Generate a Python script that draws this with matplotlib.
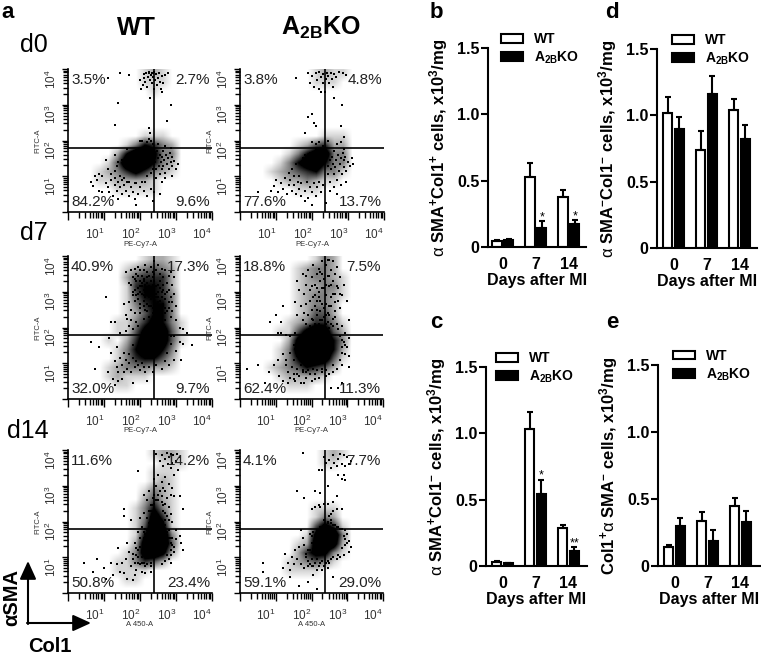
import numpy as np
import matplotlib
matplotlib.use('Agg')
import matplotlib.pyplot as plt

W, H = 761, 654
plt.rcParams['font.family'] = ['Liberation Sans', 'DejaVu Sans']
plt.rcParams['mathtext.fontset'] = 'custom'
plt.rcParams['mathtext.rm'] = 'Liberation Sans'
plt.rcParams['mathtext.bf'] = 'Liberation Sans:bold'
plt.rcParams['mathtext.it'] = 'Liberation Sans:italic'

# flow cytometry events read by eye, as log10 (Col1, aSMA)
# density = darkness 0-9 of the cloud in quarter decade cells, top row first
d0_wt_density = ['0000000012100000', '0000000011100000', '0000000001000000', '0000000000000000',
                 '0000000000000000', '0000000000000000', '0000000000000000', '0000000011100000',
                 '0000001365320000', '0000026997330000', '0000149996320000', '0001235753210000',
                 '0001122221000000', '0000011111000000', '0000000000000000', '0000000000000000']
d0_wt_dots = [(2.0,3.7),(2.03,3.45),(2.08,3.55),(2.1,3.75),(2.12,3.85),(2.15,3.65),(2.18,3.9),(2.2,3.5),(2.22,3.78),
              (2.25,3.88),(2.25,3.92),(2.28,3.7),(2.3,3.83),(2.32,3.9),(2.33,3.6),(2.36,3.78),(2.36,3.88),(2.38,3.45),
              (2.4,3.92),(2.42,3.7),(2.44,3.85),(2.46,3.55),(2.5,3.75),(2.52,3.88),(2.55,3.65),(2.58,3.45),(2.6,3.8),
              (2.65,3.6),(2.7,3.82),(2.78,3.88),(2.6,3.35),(2.85,3.0),(2.75,2.55),(2.28,3.2),(2.25,2.35),(2.28,2.2),
              (2.25,2.05),(2.3,2.0),(2.0,1.98),(1.38,3.05),(1.3,2.42),(2.05,2.0),(2.2,1.95),(2.35,1.9),(1.45,3.88),
              (1.7,3.83),(1.1,3.75),(0.65,0.85),(0.7,0.72),(0.75,1.0),(0.8,0.9),(0.85,0.6),(0.85,1.05),(0.95,1.0),
              (0.95,0.55),(1.05,0.8),(1.1,0.7),(1.1,1.2),(1.15,0.55),(1.2,0.9),(1.2,1.05),(1.25,0.45),(1.3,0.75),
              (1.3,0.95),(1.35,0.6),(1.4,0.85),(1.4,0.35),(1.45,0.7),(1.5,0.9),(1.5,0.5),(1.55,0.75),(1.6,0.6),
              (1.65,0.85),(1.7,0.45),(1.75,0.7),(1.8,0.55),(1.85,0.35),(1.9,0.8),(1.95,0.5),(2.0,0.7),(2.1,0.6),
              (2.15,0.85),(2.2,0.45),(2.3,0.65),(2.4,0.55),(2.55,0.5),(2.35,0.3),(1.9,0.2),(1.3,1.6),(1.05,1.45),
              (1.65,1.75),(2.4,1.6),(2.42,1.4),(2.45,1.2),(2.48,1.7),(2.5,1.5),(2.52,1.3),(2.55,1.05),(2.55,1.6),
              (2.58,1.4),(2.6,1.2),(2.62,1.55),(2.65,1.7),(2.65,1.3),(2.68,1.45),(2.7,1.1),(2.72,1.6),(2.75,1.35),
              (2.78,1.5),(2.8,1.2),(2.82,1.65),(2.85,1.4),(2.88,1.3),(2.9,1.55),(2.95,1.42),(3.0,1.2),(2.7,0.95),
              (2.9,1.0),(2.45,0.95),(2.6,0.85),(3.05,1.35),(2.5,1.9),(2.7,1.85),(2.85,1.8),(1.35,1.3),(1.4,1.4),
              (1.5,1.45),(1.6,1.55),(1.7,1.6),(1.8,1.65),(1.9,1.7),(2.0,1.75),(2.1,1.75),(2.2,1.8),(2.3,1.75),
              (1.45,1.0),(1.55,0.95),(1.7,0.85),(1.85,0.8),(2.05,0.85),(2.2,1.0),(2.3,1.1),(2.35,1.2),(1.3,1.15)]

d0_ko_density = ['0000000012110000', '0000000011100000', '0000000000000000', '0000000000000000',
                 '0000000000000000', '0000000000000000', '0000000000000000', '0000000001110000',
                 '0000001245220000', '0000013688330000', '0000136896330000', '0001234563310000',
                 '0000122321100000', '0000001110000000', '0000000000000000', '0000000000000000']
d0_ko_dots = [(1.55,3.75),(1.9,3.9),(1.95,3.6),(2.0,3.8),(2.05,3.5),(2.1,3.88),(2.15,3.7),(2.2,3.92),(2.2,3.45),
              (2.25,3.78),(2.3,3.6),(2.3,3.85),(2.35,3.35),(2.38,3.72),(2.42,3.9),(2.45,3.8),(2.48,3.6),(2.52,3.9),
              (2.55,3.72),(2.58,3.5),(2.62,3.85),(2.68,3.78),(2.75,3.92),(2.85,3.88),(2.95,3.82),(2.6,3.2),(2.82,2.98),
              (2.25,3.35),(1.9,2.65),(2.0,2.75),(2.05,2.5),(2.1,2.4),(1.8,2.2),(2.8,2.4),(2.9,2.1),(2.0,1.95),(2.1,1.9),
              (2.2,1.95),(2.3,1.85),(2.45,2.0),(2.7,1.9),(2.8,1.95),(2.9,1.75),(1.0,0.9),(0.85,0.6),(0.95,0.72),
              (1.05,0.55),(1.15,0.8),(1.2,0.65),(1.25,0.95),(1.3,0.5),(1.35,0.75),(1.35,1.1),(1.4,0.9),(1.45,0.6),
              (1.45,1.2),(1.5,0.75),(1.5,1.0),(1.55,0.5),(1.55,1.35),(1.6,0.85),(1.65,0.65),(1.65,1.0),(1.7,0.45),
              (1.7,0.8),(1.75,1.5),(1.8,0.6),(1.85,0.85),(1.9,0.4),(1.95,0.7),(2.0,0.55),(2.05,0.8),(2.1,0.45),
              (2.15,0.7),(2.2,0.85),(2.25,0.55),(2.3,0.75),(1.8,1.6),(1.95,1.65),(2.1,1.75),(2.2,1.7),(2.35,1.7),
              (1.8,0.3),(2.0,0.2),(2.4,0.25),(2.45,1.6),(2.45,1.3),(2.45,1.05),(2.5,1.45),(2.5,0.85),(2.52,1.2),
              (2.55,1.55),(2.58,1.35),(2.6,1.05),(2.62,1.7),(2.65,1.25),(2.68,1.45),(2.7,0.9),(2.72,1.6),(2.75,1.15),
              (2.78,1.35),(2.8,1.5),(2.82,1.05),(2.85,1.65),(2.88,1.25),(2.9,1.45),(2.92,1.55),(2.95,1.15),(3.0,1.4),
              (3.05,1.3),(3.1,1.5),(3.15,1.35),(2.6,0.7),(2.8,0.75),(2.5,0.6),(2.7,0.5),(2.95,0.85),(0.5,0.55)]

d7_wt_density = ['0000000012210000', '0000001234320000', '0000002455520000', '0000001566520000',
                 '0000001466530000', '0000001356630000', '0000001246630000', '0000011357631000',
                 '0000011479841000', '0000102589841000', '0000013689630000', '0000013566420000',
                 '0000123332210000', '0000121110000000', '0000011000000000', '0000000000000000']
d7_wt_dots = [(1.9,3.3),(2.05,3.45),(2.2,3.25),(2.35,3.4),(2.5,3.2),(1.85,3.05),(2.0,3.15),(2.15,3.0),(2.3,3.1),
              (2.45,2.95),(2.6,3.0),(1.95,2.8),(2.1,2.75),(2.25,2.85),(2.4,2.7),(2.55,2.75),(2.7,2.8),(2.0,2.55),
              (2.15,2.5),(2.3,2.6),(2.45,2.45),(2.6,2.5),(2.1,2.25),(2.25,2.3),(2.4,2.2),(2.55,2.3),(2.7,2.2),
              (1.75,3.2),(1.8,3.0),(1.85,3.35),(1.9,2.9),(1.95,3.1),(1.95,3.45),(2.0,3.3),(2.0,2.65),(2.05,2.95),
              (2.05,3.15),(2.1,3.05),(2.1,2.6),(2.1,3.3),(2.15,2.85),(2.15,3.2),(2.2,2.45),(2.2,2.95),(2.2,3.4),
              (2.25,2.6),(2.25,3.05),(2.3,2.8),(2.3,3.3),(2.35,2.3),(2.35,2.55),(2.35,3.2),(2.4,2.95),(2.4,3.5),
              (2.45,2.6),(2.45,2.85),(2.45,3.15),(2.5,2.35),(2.5,2.7),(2.5,3.0),(2.55,2.5),(2.55,3.3),(2.6,2.35),
              (2.6,2.85),(2.65,2.6),(2.65,3.05),(2.7,2.95),(2.7,2.55),(2.75,2.45),(2.8,2.7),(1.7,1.25),(1.8,1.5),
              (1.6,3.55),(1.7,3.25),(1.75,3.6),(1.8,3.4),(1.8,2.9),(1.85,3.65),(1.9,3.5),(1.95,3.7),(2.0,3.6),
              (2.05,3.25),(2.1,3.6),(2.15,3.75),(2.2,3.55),(2.25,3.45),(2.3,3.7),(2.35,3.55),(2.4,3.85),(2.45,3.6),
              (2.5,3.75),(2.55,3.5),(2.6,3.65),(2.65,3.4),(2.7,3.6),(2.75,3.25),(2.8,3.45),(2.85,3.55),(2.9,3.2),
              (2.95,3.4),(2.8,3.05),(2.85,2.85),(2.9,2.7),(2.95,2.95),(3.0,2.6),(2.8,2.55),(2.85,2.3),(2.9,2.45),
              (3.0,2.2),(3.1,2.0),(3.2,1.95),(3.3,1.85),(3.45,1.5),(3.1,1.6),(3.0,1.35),(3.15,1.1),(2.95,1.1),
              (2.85,1.55),(2.85,1.75),(2.95,1.75),(1.7,2.7),(1.75,2.5),(1.6,2.35),(1.55,2.65),(1.2,2.15),(1.05,2.85),
              (1.85,2.4),(1.9,2.15),(1.7,2.05),(1.8,1.95),(1.3,2.15),(1.6,1.9),(1.65,2.25),(1.75,2.2),(1.45,1.85),
              (1.15,1.7),(0.85,1.45),(0.65,1.6),(0.75,0.85),(1.1,0.75),(1.2,1.3),(1.3,1.05),(1.35,0.9),(1.35,1.45),
              (1.4,0.75),(1.45,1.15),(1.5,0.55),(1.5,0.95),(1.55,1.3),(1.55,0.75),(1.6,1.1),(1.65,0.85),(1.7,1.0),
              (1.75,0.75),(1.8,1.15),(1.85,0.9),(1.9,1.05),(1.95,0.95),(2.0,0.8),(2.05,1.0),(2.1,0.9),(2.15,0.75),
              (2.25,0.9),(2.35,0.75),(2.45,0.95),(2.6,0.85),(2.7,1.05),(2.75,1.3),(2.8,0.95),(1.25,0.55),(1.3,0.4),
              (1.4,0.5),(1.8,0.45),(2.2,0.5),(1.85,2.75),(2.0,2.4),(2.2,2.65),(2.35,2.4),(2.5,2.6),(2.65,2.65),
              (2.7,2.4),(2.25,2.1),(2.5,2.1),(2.65,2.1),(1.95,2.05),(2.1,3.35),(2.25,3.15),(2.4,3.3),(2.55,3.1),
              (2.65,3.2),(1.95,2.95),(2.1,2.9),(2.35,2.95),(2.75,3.0),(2.0,3.0),(2.5,2.85),(3.2,1.55)]

d7_ko_density = ['0000000013200000', '0000001233200000', '0000001233210000', '0000001223310000',
                 '0000001233210000', '0000001233200000', '0000001244200000', '0000012355310000',
                 '0000114798420000', '0000027999630000', '0000138999620000', '0000136998410000',
                 '0001234654200000', '0000122221000000', '0000011100000000', '0000000000000000']
d7_ko_dots = [(1.75,3.5),(1.85,3.2),(1.9,3.6),(1.95,3.05),(2.0,3.4),(2.05,3.75),(2.1,3.2),(2.1,2.9),(2.15,3.5),
              (2.2,3.0),(2.2,3.65),(2.25,3.3),(2.25,2.75),(2.3,3.5),(2.3,3.85),(2.35,3.1),(2.35,3.35),(2.35,2.55),
              (2.4,3.75),(2.4,2.9),(2.45,3.45),(2.45,3.9),(2.5,3.15),(2.5,3.9),(2.5,2.6),(2.55,2.85),(2.55,3.6),
              (2.6,3.3),(2.6,3.85),(2.65,2.95),(2.65,2.45),(2.7,3.15),(2.7,3.7),(2.75,2.75),(2.8,3.4),(2.85,2.9),
              (2.9,3.2),(3.0,2.75),(3.05,2.2),(1.2,2.6),(1.0,2.35),(1.15,2.15),(0.85,2.15),(1.55,2.7),(1.65,3.05),
              (1.6,2.35),(1.7,2.6),(1.75,2.2),(1.85,2.65),(1.9,2.35),(1.95,2.05),(2.0,2.5),(2.05,2.2),(2.1,2.6),
              (2.15,2.35),(2.2,2.1),(2.25,2.45),(2.3,2.2),(2.35,2.05),(2.4,2.35),(2.45,2.15),(2.5,2.35),(2.55,2.1),
              (2.6,2.25),(2.7,2.1),(2.75,1.95),(2.85,2.05),(2.95,1.85),(3.05,1.7),(2.9,1.6),(3.0,1.45),(3.05,1.2),
              (2.85,1.3),(2.85,0.95),(2.7,0.85),(2.6,0.75),(1.05,1.85),(1.15,1.85),(1.3,1.8),(1.4,1.75),(1.55,1.85),
              (1.65,1.65),(1.55,1.4),(1.5,1.1),(1.45,0.9),(1.35,0.75),(1.2,1.25),(1.05,1.1),(0.95,0.95),(0.8,0.75),
              (1.1,0.65),(1.2,0.5),(1.3,0.95),(1.35,0.45),(1.4,0.6),(1.5,0.7),(1.55,0.5),(1.6,0.85),(1.65,0.65),
              (1.7,0.45),(1.75,0.75),(1.85,0.6),(1.95,0.7),(2.0,0.5),(2.1,0.7),(2.2,0.6),(2.3,0.75),(2.4,0.65),
              (2.5,0.7),(2.55,0.3),(1.6,1.2),(1.7,1.5),(1.7,0.95),(1.85,1.75),(2.75,0.3),(0.2,0.85),(0.5,0.95),
              (0.7,0.45),(2.8,1.75),(3.05,0.9),(2.85,0.45),(1.6,3.3),(1.8,2.95),(1.85,3.45),(1.95,2.75),(2.0,3.15),
              (2.05,2.85),(2.15,2.75),(2.15,3.1),(2.2,2.85),(2.25,3.55),(2.3,2.65),(2.3,3.1),(2.4,2.65),(2.4,3.2),
              (2.45,2.4),(2.5,3.45),(2.55,2.6),(2.55,3.2),(2.6,2.95),(2.65,3.5),(2.65,2.7),(2.75,3.1),(2.8,2.55),
              (2.8,2.95),(1.8,2.4),(1.85,2.1),(2.0,2.25),(2.05,1.95),(2.1,2.1),(2.15,2.5),(2.25,2.2),(2.35,2.3),
              (2.4,2.1),(2.5,2.0),(2.6,2.05),(2.65,2.3),(1.65,1.2),(1.6,1.5),(1.7,1.35),(1.75,0.8),(1.85,0.75),
              (1.9,0.8),(2.05,0.85),(2.15,0.8),(2.3,0.85),(2.4,0.8),(2.6,0.95),(2.8,1.1),(2.85,1.45),(2.85,1.65),
              (2.95,1.5),(2.95,1.25),(1.5,1.5),(1.4,1.3),(1.3,1.1),(1.5,0.55),(1.6,0.7),(1.8,0.45),(2.1,0.55)]

d14_wt_density = ['0000000001221000', '0000000000111000', '0000000001110000', '0000000001210000',
                  '0000000013210000', '0000000024210000', '0000000136310000', '0000000138510000',
                  '0000000149710000', '0000000169930000', '0000000289940000', '0000001389720000',
                  '0000011354200000', '0000011110000000', '0000001100000000', '0000000000000000']
d14_wt_dots = [(2.45,3.9),(2.55,3.7),(2.6,3.85),(2.65,3.55),(2.7,3.75),(2.75,3.92),(2.78,3.6),(2.8,3.8),(2.85,3.5),
               (2.85,3.9),(2.9,3.65),(2.92,3.85),(2.95,3.3),(3.0,3.7),(3.02,3.9),(3.05,3.45),(3.1,3.8),(1.95,3.4),
               (2.4,3.2),(2.45,3.0),(2.5,3.3),(2.55,2.85),(2.6,3.1),(2.65,2.95),(2.7,3.25),(2.7,2.85),(2.8,3.05),
               (2.85,2.75),(2.9,2.95),(2.95,2.7),(3.1,2.7),(2.1,2.75),(2.2,2.6),(2.25,2.85),(2.3,2.45),(2.35,2.65),
               (2.4,2.75),(2.5,2.6),(2.6,2.55),(2.7,2.5),(2.75,2.65),(2.8,2.4),(2.85,2.2),(3.2,2.35),(2.9,2.0),
               (2.8,2.05),(3.0,1.75),(3.0,1.5),(3.1,1.6),(3.15,1.4),(3.2,1.2),(2.95,1.15),(2.9,1.35),(2.85,1.05),
               (2.85,0.85),(2.7,0.9),(2.6,0.8),(2.3,0.75),(2.15,0.75),(2.0,0.8),(1.95,1.0),(1.9,1.25),(1.85,1.4),
               (1.8,0.95),(1.75,0.75),(1.7,1.15),(1.65,1.4),(1.6,0.95),(1.5,0.85),(1.4,1.25),(1.35,0.8),(1.2,0.85),
               (0.45,0.85),(0.8,0.95),(0.7,0.6),(1.0,0.7),(1.45,0.6),(1.55,0.55),(1.65,0.4),(1.85,0.5),(1.8,0.35),
               (1.9,0.65),(1.25,0.5),(1.05,0.4),(2.05,0.6),(1.55,2.35),(1.55,2.15),(2.0,2.1),(2.05,1.85),(2.1,2.25),
               (2.15,1.8),(1.95,1.7),(2.0,1.55),(2.1,1.7),(2.2,2.1),(2.25,2.3),(1.75,2.05),(2.7,1.9),(2.8,1.75),
               (2.85,1.55),(2.75,2.15),(2.65,2.0),(2.15,0.55),(2.3,0.6),(2.0,1.3),(1.95,1.2),(2.05,0.85),(2.1,1.55),
               (2.15,1.65),(2.2,1.75),(2.25,1.95),(2.3,2.1),(2.3,2.3),(2.35,2.45),(2.4,2.5),(2.75,1.7),(2.8,1.55),
               (2.85,1.4),(2.85,1.2),(2.8,0.95),(2.75,1.05),(2.9,1.55),(2.95,1.3),(2.65,2.3),(2.7,2.05),(2.7,2.25),
               (2.65,2.45),(2.6,2.7),(2.5,2.75),(2.45,2.6),(2.4,2.3),(2.3,0.85),(2.2,0.8),(2.1,0.85),(1.8,1.1),
               (1.85,0.85),(1.9,1.05),(1.95,0.85),(2.05,1.0)]

d14_ko_density = ['0000000001210000', '0000000001100000', '0000000000000000', '0000000000000000',
                  '0000000000000000', '0000000000000000', '0000000011100000', '0000000013200000',
                  '0000000047510000', '0000000179930000', '0000001289820000', '0000002577310000',
                  '0000012343100000', '0000011110000000', '0000000000000000', '0000000000000000']
d14_ko_dots = [(1.75,3.92),(2.35,3.8),(2.4,3.65),(2.5,3.72),(2.55,3.5),(2.6,3.85),(2.62,3.65),(2.7,3.55),(2.75,3.75),
               (2.8,3.9),(2.85,3.6),(2.9,3.85),(2.95,3.55),(3.0,3.8),(3.05,3.6),(3.1,3.7),(2.2,3.45),(2.3,3.45),
               (2.75,3.3),(2.85,3.2),(2.9,3.3),(2.95,3.15),(2.45,3.0),(2.25,2.8),(2.1,2.85),(1.6,2.85),(1.8,2.65),
               (2.0,2.35),(2.1,2.4),(2.2,2.45),(2.25,2.4),(2.35,2.5),(2.45,2.5),(2.6,2.55),(2.7,2.7),(2.6,2.3),
               (2.55,2.2),(2.7,2.35),(2.85,2.35),(2.5,2.15),(2.45,1.95),(2.35,1.9),(2.55,1.95),(2.65,1.9),(2.75,1.85),
               (2.85,1.8),(2.95,1.75),(2.9,1.6),(3.0,1.65),(3.05,1.45),(3.1,1.3),(3.05,1.15),(2.85,1.25),(2.9,1.05),
               (2.8,1.0),(2.7,0.95),(2.5,0.85),(2.45,0.7),(2.3,0.65),(2.15,0.65),(2.0,0.75),(1.9,0.9),(1.85,1.1),
               (1.8,1.35),(1.75,1.55),(1.7,1.75),(1.95,1.65),(2.05,1.7),(2.15,1.75),(2.25,1.85),(1.45,1.0),(1.5,0.8),
               (1.55,1.2),(1.6,0.95),(1.65,1.3),(1.4,0.65),(1.35,0.85),(1.25,1.1),(1.2,0.7),(1.7,0.8),(1.8,0.7),
               (0.65,0.85),(0.65,0.6),(1.9,0.3),(2.15,0.1),(1.65,0.2),(2.6,0.45),(1.4,0.45),(1.9,0.75),(2.05,0.5),
               (1.85,1.0),(1.9,1.2),(1.95,0.8),(2.0,0.95),(2.05,0.75),(2.1,0.85),(2.15,0.95),(2.2,0.75),(2.25,0.85),
               (2.3,0.9),(2.35,0.75),(2.4,0.85),(2.45,0.9),(2.55,0.95),(2.6,1.0),(2.75,1.05),(2.95,1.35),(2.95,1.5),
               (3.0,1.4),(2.1,1.5),(2.0,1.4),(1.95,1.2),(2.0,1.6),(2.15,1.6),(2.25,1.7),(2.35,1.8),(2.5,1.85),
               (2.6,1.9),(2.7,1.85),(2.8,1.8),(2.45,2.0),(2.55,2.05),(2.35,2.05)]

decade_labels = ['10$^{1}$', '10$^{2}$', '10$^{3}$', '10$^{4}$']
percent_labels = [['3.5%', '2.7%', '84.2%', '9.6%'], ['3.8%', '4.8%', '77.6%', '13.7%'],
                  ['40.9%', '17.3%', '32.0%', '9.7%'], ['18.8%', '7.5%', '62.4%', '11.3%'],
                  ['11.6%', '14.2%', '50.8%', '23.4%'], ['4.1%', '7.7%', '59.1%', '29.0%']]
flow_density = [d0_wt_density, d0_ko_density, d7_wt_density, d7_ko_density, d14_wt_density, d14_ko_density]
flow_dots = [d0_wt_dots, d0_ko_dots, d7_wt_dots, d7_ko_dots, d14_wt_dots, d14_ko_dots]
flow_xname = ['PE-Cy7-A', 'PE-Cy7-A', 'PE-Cy7-A', 'PE-Cy7-A', 'A 450-A', 'A 450-A']
gate_x = [2.39, 2.37, 2.39, 2.37, 2.39, 2.37]
gate_y = [1.8, 1.78, 1.79, 1.79, 1.78, 1.78]

days = ['0', '7', '14']
b_wt, b_wt_err = [0.045, 0.53, 0.38], [0.005, 0.10, 0.05]
b_ko, b_ko_err = [0.05, 0.145, 0.175], [0.008, 0.05, 0.025]
d_wt, d_wt_err = [1.02, 0.74, 1.04], [0.12, 0.14, 0.08]
d_ko, d_ko_err = [0.90, 1.16, 0.82], [0.09, 0.14, 0.11]
c_wt, c_wt_err = [0.03, 1.03, 0.29], [0.005, 0.13, 0.02]
c_ko, c_ko_err = [0.02, 0.54, 0.11], [0.005, 0.11, 0.03]
e_wt, e_wt_err = [0.145, 0.335, 0.45], [0.01, 0.065, 0.06]
e_ko, e_ko_err = [0.295, 0.185, 0.33], [0.065, 0.085, 0.08]
b_stars = ['', '*', '*']
c_stars = ['', '*', '**']
no_stars = ['', '', '']

fig = plt.figure(figsize=(W / 100, H / 100), dpi=100)


def add_axes(x0, y0, x1, y1):
    # box given in pixels from the top left of the picture
    return fig.add_axes([x0 / W, 1 - y1 / H, (x1 - x0) / W, (y1 - y0) / H])


def flow_panel(i, x0, y0, x1, y1):
    # axes run in decades, so log10 values plot directly
    ax = add_axes(x0, y0, x1, y1)
    ax.patch.set_alpha(0)
    grid = np.array([[int(c) for c in row] for row in flow_density[i]])
    ax.imshow(grid, extent=(0, 4, 0, 4), aspect='auto', cmap='gray_r', vmin=0, vmax=6, interpolation='bilinear')
    dots = np.array(flow_dots[i])
    ax.scatter(dots[:, 0], dots[:, 1], s=2, c='black', marker='s', linewidths=0)
    ax.set_xlim(0, 4)
    ax.set_ylim(0, 4)
    ax.axvline(gate_x[i], color='black', lw=1.2)
    ax.axhline(gate_y[i], color='black', lw=1.2)
    ax.spines['top'].set_visible(False)
    ax.spines['right'].set_visible(False)
    ax.spines['left'].set_linewidth(1.2)
    ax.spines['bottom'].set_linewidth(1.2)
    ax.set_xticks([0, 1, 2, 3, 4])
    ax.set_yticks([0, 1, 2, 3, 4])
    ax.set_xticklabels([''] + decade_labels, fontsize=8.5, ha='right', color='#333333')
    ax.set_yticklabels([''] + decade_labels, fontsize=8.5, rotation=90, va='top', color='#333333')
    minor = [k + np.log10(m) for k in range(4) for m in range(2, 10)]
    ax.set_xticks(minor, minor=True)
    ax.set_yticks(minor, minor=True)
    ax.tick_params(axis='x', which='major', length=5.5, width=1, pad=5)
    ax.tick_params(axis='x', which='minor', length=4, width=1)
    ax.tick_params(axis='y', which='major', length=4.5, width=1, pad=2)
    ax.tick_params(axis='y', which='minor', length=3.5, width=1)
    lab = percent_labels[i]
    ov.text(x0 + 3, y0 + 11, lab[0], fontsize=11, ha='left', va='center', color='#222222')
    ov.text(x1 - 2, y0 + 11, lab[1], fontsize=11, ha='right', va='center', color='#222222')
    ov.text(x0 + 3, y1 - 10, lab[2], fontsize=11, ha='left', va='center', color='#222222')
    ov.text(x1 - 2, y1 - 10, lab[3], fontsize=11, ha='right', va='center', color='#222222')
    ov.text((x0 + x1) / 2, y1 + 32, flow_xname[i], fontsize=5.5, ha='center', va='center', color='#333333')
    ov.text(x0 - 30, y1 - 71, 'FITC-A', fontsize=5.5, rotation=90, ha='center', va='center', color='#333333')


def bar_panel(x0, y0, x1, y1, first, wt, wt_err, ko, ko_err, stars, ylabel, legend_at):
    ax = add_axes(x0, y0, x1, y1)
    ax.patch.set_alpha(0)
    x = np.arange(3)
    up = np.zeros(3)
    h1 = ax.bar(x - 0.18, wt, 0.28, color='white', edgecolor='black', lw=1.5, label='WT',
                yerr=[up, wt_err], error_kw=dict(ecolor='black', elinewidth=1.5, capsize=2.5, capthick=1.5))
    h2 = ax.bar(x + 0.18, ko, 0.28, color='black', edgecolor='black', lw=1.5, label='A$_{\\mathbf{2B}}$KO',
                yerr=[up, ko_err], error_kw=dict(ecolor='black', elinewidth=1.5, capsize=2.5, capthick=1.5))
    for k in range(3):
        if stars[k]:
            ax.text(k + 0.18, ko[k] + ko_err[k] - 0.015, stars[k], fontsize=9, ha='center', va='bottom')
    ax.set_xlim(first, first + (x1 - x0) / 33)
    ax.set_ylim(0, 1.5)
    ax.set_xticks(x)
    ax.set_xticklabels(days, fontsize=11.5, fontweight='bold')
    ax.set_yticks([0, 0.5, 1.0, 1.5])
    ax.set_yticklabels(['0', '0.5', '1.0', '1.5'], fontsize=11.5, fontweight='bold')
    ax.tick_params(axis='x', length=0, pad=7)
    ax.tick_params(axis='y', length=5, width=1.5, pad=1)
    ax.spines['top'].set_visible(False)
    ax.spines['right'].set_visible(False)
    ax.spines['left'].set_linewidth(1.5)
    ax.spines['bottom'].set_linewidth(1.5)
    ax.set_xlabel('Days after MI', fontsize=11.5, fontweight='bold', labelpad=1)
    ax.set_ylabel(ylabel, fontsize=12, fontweight='bold')
    ax.yaxis.set_label_coords(-38 / (x1 - x0), 0.5)
    ax.legend(handles=[h1, h2], loc='upper left', bbox_to_anchor=legend_at, frameon=False,
              prop=dict(weight='bold', size=10), handlelength=1.6, handleheight=0.6, handletextpad=0.8,
              labelspacing=0.25, borderpad=0, borderaxespad=0)


# overlay in pixel coordinates for the free text and the arrows
ov = fig.add_axes([0, 0, 1, 1], zorder=5)
ov.set_xlim(0, W)
ov.set_ylim(H, 0)
ov.axis('off')

flow_panel(0, 68, 69, 212, 212)
flow_panel(1, 240, 69, 384, 212)
flow_panel(2, 68, 256, 212, 399)
flow_panel(3, 240, 256, 383, 399)
flow_panel(4, 68, 450, 212, 593)
flow_panel(5, 240, 450, 383, 593)

alpha = '$\\mathrm{\\alpha}$ '
ylab_b = alpha + 'SMA$\\mathbf{^{+}}$Col1$\\mathbf{^{+}}$ cells, x10$\\mathbf{^{3}}$/mg'
ylab_d = alpha + 'SMA$\\mathbf{^{-}}$Col1$\\mathbf{^{-}}$ cells, x10$\\mathbf{^{3}}$/mg'
ylab_c = alpha + 'SMA$\\mathbf{^{+}}$Col1$\\mathbf{^{-}}$ cells, x10$\\mathbf{^{3}}$/mg'
ylab_e = 'Col1$\\mathbf{^{+}}$' + alpha + 'SMA$\\mathbf{^{-}}$ cells, x10$\\mathbf{^{3}}$/mg'
bar_panel(488, 48, 586, 247, -0.45, b_wt, b_wt_err, b_ko, b_ko_err, b_stars, ylab_b, (0.13, 1.08))
bar_panel(657, 49, 757, 248, -0.5, d_wt, d_wt_err, d_ko, d_ko_err, no_stars, ylab_d, (0.15, 1.08))
bar_panel(486, 367, 587, 566, -0.5, c_wt, c_wt_err, c_ko, c_ko_err, c_stars, ylab_c, (0.10, 1.08))
bar_panel(658, 365, 760, 566, -0.5, e_wt, e_wt_err, e_ko, e_ko_err, no_stars, ylab_e, (0.147, 1.08))

for s, px, py in [('a', 8, 12), ('b', 436, 12), ('d', 612, 12), ('c', 436, 322), ('e', 612, 322)]:
    ov.text(px, py, s, fontsize=16, fontweight='bold', ha='center', va='center')
for s, px, py in [('d0', 34, 45), ('d7', 34, 233), ('d14', 28, 431)]:
    ov.text(px, py, s, fontsize=18, ha='center', va='center')
ov.text(136, 28, 'WT', fontsize=18, fontweight='bold', ha='center', va='center')
ov.text(321, 28, 'A$_{\\mathbf{2B}}$KO', fontsize=18, fontweight='bold', ha='center', va='center')
ov.text(12, 598, '\u03b1SMA', fontsize=14.5, fontweight='bold', rotation=90, ha='center', va='center')
ov.text(50, 646, 'Col1', fontsize=14.5, fontweight='bold', ha='center', va='center')

# axis arrows at the lower left
ov.annotate('', xy=(28, 561), xytext=(28, 624), arrowprops=dict(arrowstyle='-|>,head_width=0.5,head_length=1.1',
            color='black', lw=1.5, shrinkA=0, shrinkB=0))
ov.annotate('', xy=(91, 623), xytext=(27, 623), arrowprops=dict(arrowstyle='-|>,head_width=0.5,head_length=1.1',
            color='black', lw=1.5, shrinkA=0, shrinkB=0))

fig.savefig('out.png', dpi=100)
